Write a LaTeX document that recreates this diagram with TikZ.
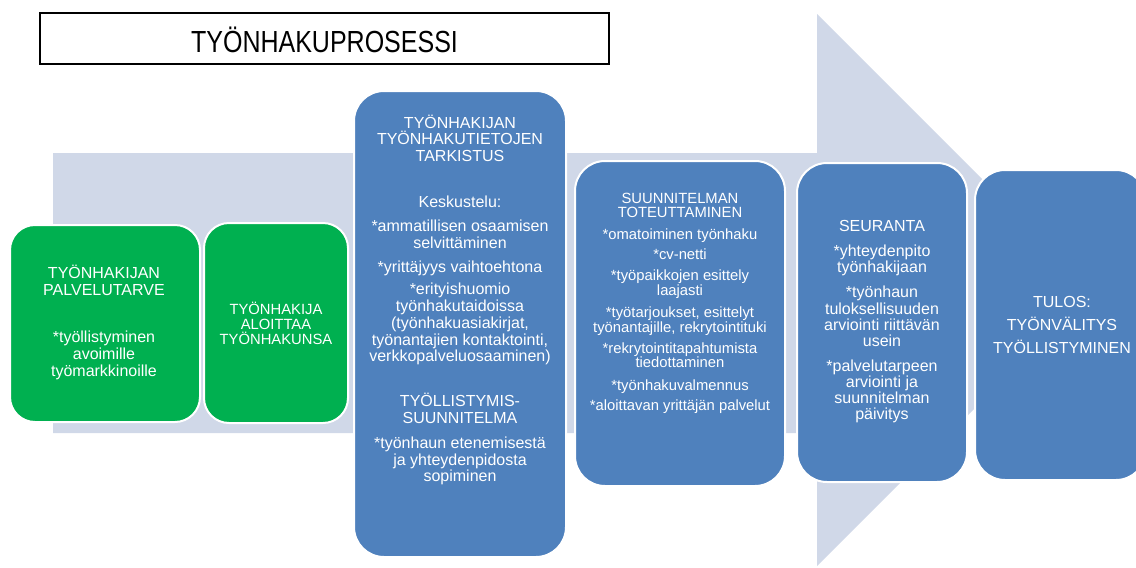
\documentclass[tikz,border=0pt]{standalone}
\usepackage{fontspec}
\setmainfont{Liberation Sans}
\newfontfamily\titlefont[FakeStretch=0.82]{Liberation Sans}
\definecolor{arrowfill}{HTML}{D0D8E8}
\definecolor{stepgreen}{HTML}{00B050}
\definecolor{stepblue}{HTML}{4F81BD}

\begin{document}
\begin{tikzpicture}[x=1pt,y=-1pt,
  panel/.style={rounded corners=#1, draw=white, line width=2pt, inner sep=0pt},
  greenpanel/.style={panel=25pt, fill=stepgreen},
  bluepanel/.style={panel=30pt, fill=stepblue},
  txt/.style={text=white, align=center, inner sep=0pt},
  big/.style={font=\fontsize{16}{#1}\selectfont},
  small/.style={font=\fontsize{14.8}{#1}\selectfont},
]
\useasboundingbox (0,0) rectangle (1136,568);
\clip (0,0) rectangle (1136,568);
\fill[white] (0,0) rectangle (1136,568);

% title
\node[draw=black, line width=1.1pt, minimum width=569pt, minimum height=51pt, inner sep=0pt] (title) at (324.5,38.5) {};
\node[anchor=base, inner sep=0pt, font=\titlefont\fontsize{30.5}{36}\selectfont] (titletext) at (324.5,52.5) {TYÖNHAKUPROSESSI};

% background process arrow
\fill[arrowfill] (53,153) -- (817,153) -- (817,14) -- (1093,290) -- (817,566) -- (817,433) -- (53,433) -- cycle;

% process steps
\node[greenpanel, minimum width=190pt, minimum height=197pt] (need) at (105,323.5) {};
\node[greenpanel, minimum width=144pt, minimum height=200pt] (start) at (276,323) {};
\node[bluepanel, minimum width=212pt, minimum height=466pt] (check) at (460,324) {};
\node[bluepanel, minimum width=210pt, minimum height=325pt] (plan) at (680,323.5) {};
\node[bluepanel, minimum width=170pt, minimum height=319pt] (follow) at (882,322.5) {};
\node[bluepanel, minimum width=171pt, minimum height=310pt] (result) at (1060.5,325) {};

% step texts
\node[txt, big=17.3] (needtext) at (104,322.5)
  {TYÖNHAKIJAN\\PALVELUTARVE\\[29pt]*työllistyminen\\avoimille\\työmarkkinoille};
\node[txt, small=15] (starttext) at (276,323)
  {TYÖNHAKIJA\\ALOITTAA\\TYÖNHAKUNSA};
\node[txt, big=16.8] (checktext) at (460,300)
  {TYÖNHAKIJAN\\TYÖNHAKUTIETOJEN\\TARKISTUS\\[29pt]Keskustelu:\\[7pt]*ammatillisen osaamisen\\selvittäminen\\[8pt]*yrittäjyys vaihtoehtona\\[5pt]*erityishuomio\\työnhakutaidoissa\\(työnhakuasiakirjat,\\työnantajien kontaktointi,\\verkkopalveluosaaminen)\\[28pt]TYÖLLISTYMIS-\\SUUNNITELMA\\[8pt]*työnhaun etenemisestä\\ja yhteydenpidosta\\sopiminen};
\node[txt, small=14.6] (plantext) at (680,303)
  {SUUNNITELMAN\\TOTEUTTAMINEN\\[7.5pt]*omatoiminen työnhaku\\[5.5pt]*cv-netti\\[6.5pt]*työpaikkojen esittely\\laajasti\\[7.5pt]*työtarjoukset, esittelyt\\työnantajille, rekrytointituki\\[6.5pt]*rekrytointitapahtumista\\tiedottaminen\\[7.5pt]*työnhakuvalmennus\\[5.5pt]*aloittavan yrittäjän palvelut};
\node[txt, big=16.3] (followtext) at (882,322)
  {SEURANTA\\[8pt]*yhteydenpito\\työnhakijaan\\[9pt]*työnhaun\\tuloksellisuuden\\arviointi riittävän\\usein\\[8pt]*palvelutarpeen\\arviointi ja\\suunnitelman\\päivitys};
\node[txt, big=23] (resulttext) at (1062,325)
  {TULOS:\\TYÖNVÄLITYS\\TYÖLLISTYMINEN};
\end{tikzpicture}
\end{document}
